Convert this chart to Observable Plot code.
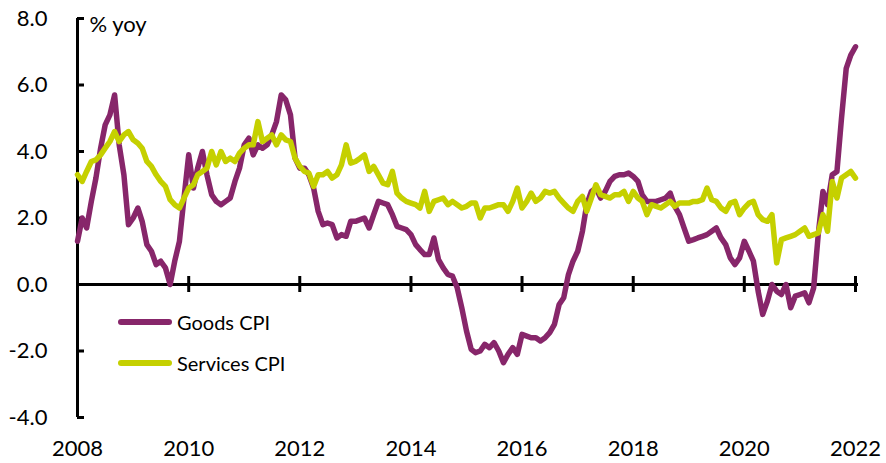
<!DOCTYPE html>
<html><head><meta charset="utf-8">
<script src="https://cdn.jsdelivr.net/npm/d3@7"></script>
<script src="https://cdn.jsdelivr.net/npm/@observablehq/plot@0.6"></script>
<style>
body{margin:0;background:#fff;}
#wrap{position:relative;width:886px;height:463px;font-family:Lato,sans-serif;}
.leg{position:absolute;left:118px;height:24px;line-height:24px;display:flex;align-items:center;font-size:20px;color:#000;}
.leg .sw{display:inline-block;width:54px;height:6px;border-radius:3px;margin-right:5px;}
</style></head><body><div id="wrap"></div>
<script>
const startYear = 2008;
const seriesNames = ["Goods CPI", "Services CPI"];
const seriesColors = ["#87266a", "#c5d000"];
const yTickValues = [-4, -2, 0, 2, 4, 6, 8];
const xTickYears = [2008, 2010, 2012, 2014, 2016, 2018, 2020, 2022];
const yUnitLabel = "% yoy";

// monthly values, Jan 2008 .. Jan 2022
const goods = [
  1.3, 2.0, 1.7, 2.5, 3.2, 4.1, 4.8, 5.1, 5.7, 4.2, 3.3, 1.8,
  2.0, 2.3, 1.9, 1.2, 1.0, 0.6, 0.7, 0.5, 0.0, 0.7, 1.3, 2.6,
  3.9, 2.9, 3.5, 4.0, 3.3, 2.7, 2.5, 2.4, 2.5, 2.6, 3.1, 3.5,
  4.2, 4.4, 3.9, 4.2, 4.1, 4.2, 4.5, 4.9, 5.7, 5.55, 5.1, 3.8,
  3.5, 3.5, 3.3, 2.9, 2.2, 1.8, 1.85, 1.8, 1.4, 1.5, 1.45, 1.9,
  1.9, 1.95, 2.0, 1.7, 2.1, 2.5, 2.45, 2.4, 2.1, 1.75, 1.7, 1.65,
  1.5, 1.2, 1.05, 0.9, 0.9, 1.4, 0.75, 0.5, 0.3, 0.25, -0.1, -0.7,
  -1.4, -1.95, -2.05, -2.0, -1.8, -1.9, -1.75, -2.0, -2.35, -2.1, -1.9, -2.1,
  -1.5, -1.55, -1.6, -1.6, -1.7, -1.6, -1.45, -1.2, -0.6, -0.4, 0.3, 0.7,
  1.0, 1.6, 2.4, 2.8, 2.9, 2.6, 2.8, 3.1, 3.25, 3.3, 3.3, 3.35,
  3.25, 3.1, 2.7, 2.5, 2.5, 2.5, 2.55, 2.6, 2.75, 2.35, 2.1, 1.7,
  1.3, 1.35, 1.4, 1.45, 1.5, 1.6, 1.7, 1.4, 1.2, 0.8, 0.6, 0.8,
  1.3, 1.0, 0.7, -0.2, -0.9, -0.5, 0.0, -0.2, -0.3, 0.0, -0.7, -0.35,
  -0.3, -0.25, -0.55, -0.1, 1.5, 2.8, 2.4, 3.3, 3.4, 5.0, 6.5, 6.9,
  7.15
];
const services = [
  3.3, 3.1, 3.4, 3.7, 3.75, 3.9, 4.1, 4.3, 4.6, 4.3, 4.5, 4.6,
  4.35, 4.25, 4.1, 3.7, 3.55, 3.3, 3.1, 2.95, 2.55, 2.4, 2.3, 2.6,
  2.9, 3.0, 3.3, 3.4, 3.5, 4.0, 3.6, 4.0, 3.7, 3.8, 3.7, 3.95,
  4.1, 4.2, 4.2, 4.9, 4.3, 4.4, 4.5, 4.2, 4.5, 4.35, 4.3, 3.8,
  3.55, 3.4, 3.35, 2.95, 3.3, 3.3, 3.4, 3.2, 3.3, 3.6, 4.2, 3.65,
  3.7, 3.8, 3.9, 3.4, 3.55, 3.3, 3.05, 3.0, 3.4, 2.75, 2.6, 2.5,
  2.45, 2.4, 2.3, 2.8, 2.2, 2.5, 2.55, 2.6, 2.4, 2.5, 2.4, 2.3,
  2.35, 2.45, 2.45, 2.0, 2.3, 2.3, 2.35, 2.4, 2.4, 2.2, 2.5, 2.9,
  2.3, 2.5, 2.75, 2.5, 2.6, 2.8, 2.75, 2.8, 2.6, 2.45, 2.3, 2.2,
  2.5, 2.65, 2.2, 2.6, 3.0, 2.7, 2.65, 2.6, 2.7, 2.7, 2.8, 2.5,
  2.8, 2.6, 2.5, 2.1, 2.4, 2.35, 2.3, 2.4, 2.5, 2.35, 2.45, 2.45,
  2.45, 2.5, 2.5, 2.55, 2.9, 2.55, 2.5, 2.3, 2.2, 2.45, 2.5, 2.1,
  2.3, 2.45, 2.5, 2.1, 1.95, 1.9, 2.1, 0.65, 1.35, 1.4, 1.45, 1.5,
  1.6, 1.7, 1.45, 1.5, 1.55, 2.1, 1.6, 3.1, 2.6, 3.2, 3.3, 3.4,
  3.2
];

const rows = [];
[goods, services].forEach((arr, s) => arr.forEach((v, i) =>
  rows.push({date: new Date(Date.UTC(startYear, i, 1)), value: v, series: seriesNames[s]})));
const xTicks = xTickYears.map(y => new Date(Date.UTC(y, 0, 1)));
const x0 = xTicks[0];

const chart = Plot.plot({
  width: 886, height: 463,
  marginLeft: 77, marginRight: 31, marginTop: 18, marginBottom: 46,
  style: {fontFamily: "Lato, sans-serif", fontSize: "22px", color: "#000", background: "#fff", overflow: "visible"},
  x: {type: "utc", domain: [xTicks[0], xTicks[xTicks.length - 1]], label: null},
  y: {domain: [-4, 8], label: null},
  color: {domain: seriesNames, range: seriesColors},
  marks: [
    Plot.axisY(yTickValues, {tickSize: 0, tickPadding: 30, tickFormat: d => d.toFixed(1), fontSize: 22, label: null}),
    Plot.axisX(xTicks, {tickSize: 0, tickPadding: 23, tickFormat: d => String(d.getUTCFullYear()), fontSize: 22, label: null}),
    Plot.ruleY([0], {stroke: "#000", strokeWidth: 3, insetRight: -3}),
    Plot.ruleX([x0], {stroke: "#000", strokeWidth: 3}),
    Plot.ruleX(xTicks.slice(1), {x: d => d, y1: () => 0, y2: () => 0, insetTop: 8, insetBottom: 8, stroke: "#000", strokeWidth: 3}),
    Plot.ruleY(yTickValues, {y: d => d, x1: () => x0, x2: () => x0, insetRight: -7, stroke: "#000", strokeWidth: 3}),
    Plot.line(rows, {x: "date", y: "value", z: "series", stroke: "series", strokeWidth: 5.5, strokeLinejoin: "round", strokeLinecap: "round"}),
    Plot.text([yUnitLabel], {frameAnchor: "top-left", dx: 12, dy: 6, textAnchor: "start", lineAnchor: "middle", fontSize: 22})
  ]
});
const wrap = document.getElementById("wrap");
wrap.appendChild(chart);
const legendTops = [310, 351];
seriesNames.forEach((name, i) => {
  const d = document.createElement("div");
  d.className = "leg";
  d.style.top = legendTops[i] + "px";
  d.innerHTML = `<span class="sw" style="background:${seriesColors[i]}"></span><span>${name}</span>`;
  wrap.appendChild(d);
});
</script></body></html>
